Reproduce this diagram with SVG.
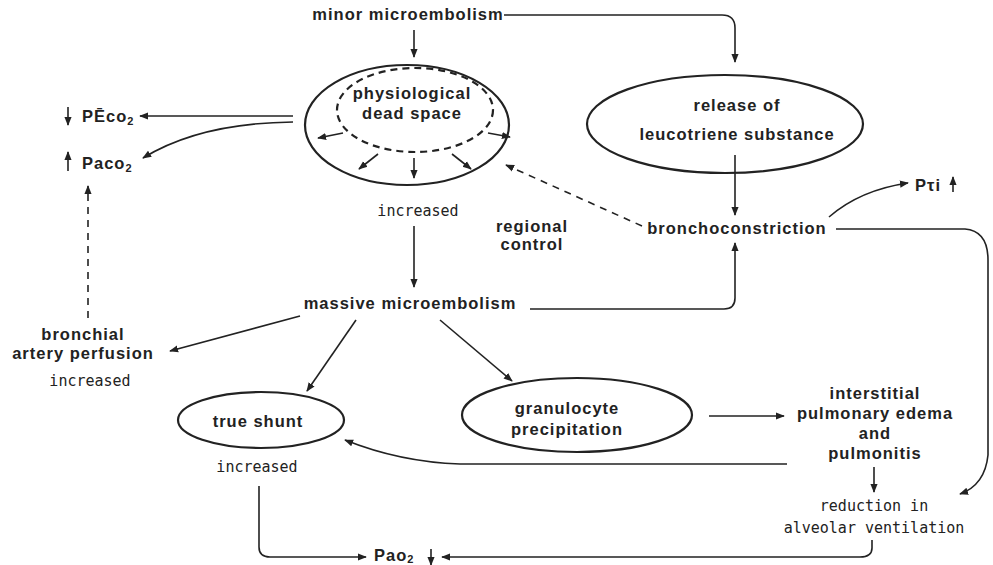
<svg xmlns="http://www.w3.org/2000/svg" width="993" height="565" viewBox="0 0 993 565">
<style>
.t{font-family:"Liberation Sans",Arial,sans-serif;font-size:16.5px;font-weight:bold;letter-spacing:1px;fill:#222;text-anchor:middle}
.m{font-family:"DejaVu Sans Mono","Liberation Mono",monospace;font-size:15px;fill:#222;text-anchor:middle}
.ln{fill:none;stroke:#222;stroke-width:1.6}
.dl{fill:none;stroke:#222;stroke-width:1.6;stroke-dasharray:7 6}
.el{fill:none;stroke:#222;stroke-width:2.2}
.de{fill:none;stroke:#222;stroke-width:2.2;stroke-dasharray:7 5}
</style>
<defs>
<marker id="a" viewBox="0 0 10 10" refX="9" refY="5" markerWidth="9" markerHeight="9" markerUnits="userSpaceOnUse" orient="auto">
<path d="M0,1 L10,5 L0,9 z" fill="#222"/>
</marker>
</defs>
<rect width="993" height="565" fill="#fff"/>

<g id="minor"><text class="t" x="408" y="20">minor microembolism</text></g>

<g id="deadspace">
<ellipse class="el" cx="407" cy="125" rx="102" ry="60"/>
<ellipse class="de" cx="415" cy="110" rx="78" ry="42"/>
<text class="t" x="412" y="99">physiological</text>
<text class="t" x="412" y="119">dead space</text>
<g class="ln">
<line x1="343" y1="133" x2="318" y2="138" marker-end="url(#a)"/>
<line x1="488" y1="133" x2="510" y2="137" marker-end="url(#a)"/>
<line x1="378" y1="154" x2="359" y2="169" marker-end="url(#a)"/>
<line x1="414" y1="158" x2="414" y2="178" marker-end="url(#a)"/>
<line x1="452" y1="154" x2="471" y2="169" marker-end="url(#a)"/>
</g>
<text class="m" x="418" y="216">increased</text>
</g>

<g id="leuco">
<ellipse class="el" cx="725" cy="124" rx="138" ry="49"/>
<text class="t" x="737" y="111">release of</text>
<text class="t" x="737" y="140">leucotriene substance</text>
</g>

<g id="broncho"><text class="t" x="737" y="234">bronchoconstriction</text></g>
<g id="pti"><text class="t" x="928" y="191">Pτi</text>
<line class="ln" x1="953" y1="192" x2="953" y2="177" marker-end="url(#a)"/></g>

<g id="regional"><text class="t" x="532" y="232">regional</text><text class="t" x="532" y="250">control</text></g>

<g id="massive"><text class="t" x="410" y="309">massive microembolism</text></g>

<g id="peco2"><line class="ln" x1="68" y1="107" x2="68" y2="125" marker-end="url(#a)"/>
<text class="t" x="82" y="122" style="text-anchor:start">PĒco<tspan font-size="11" dy="3">2</tspan></text></g>
<g id="paco2"><line class="ln" x1="68" y1="171" x2="68" y2="152" marker-end="url(#a)"/>
<text class="t" x="82" y="169" style="text-anchor:start">Paco<tspan font-size="11" dy="3">2</tspan></text></g>

<g id="bronchial">
<text class="t" x="83" y="340">bronchial</text>
<text class="t" x="83" y="359">artery perfusion</text>
<text class="m" x="90" y="386">increased</text>
</g>

<g id="trueshunt">
<ellipse class="el" cx="261" cy="420" rx="83" ry="28"/>
<text class="t" x="258" y="427">true shunt</text>
<text class="m" x="257" y="472">increased</text>
</g>

<g id="granulocyte">
<ellipse class="el" cx="577" cy="415" rx="115" ry="37"/>
<text class="t" x="567" y="414">granulocyte</text>
<text class="t" x="567" y="435">precipitation</text>
</g>

<g id="edema">
<text class="t" x="875" y="399">interstitial</text>
<text class="t" x="875" y="419">pulmonary edema</text>
<text class="t" x="875" y="439">and</text>
<text class="t" x="875" y="459">pulmonitis</text>
</g>

<g id="reduction">
<text class="m" x="874" y="511">reduction in</text>
<text class="m" x="874" y="533">alveolar ventilation</text>
</g>

<g id="pao2"><text class="t" x="374" y="561" style="text-anchor:start">Pao<tspan font-size="11" dy="2">2</tspan></text>
<line class="ln" x1="431" y1="549" x2="431" y2="565" marker-end="url(#a)"/></g>

<g id="connectors">
<line class="ln" x1="414" y1="30" x2="414" y2="57" marker-end="url(#a)"/>
<path class="ln" d="M504,15 L722,15 Q735,15 735,28 L735,62" marker-end="url(#a)"/>
<path class="ln" d="M735,155 L735,215" marker-end="url(#a)"/>
<line class="dl" x1="642" y1="226" x2="506" y2="165" marker-end="url(#a)"/>
<line class="ln" x1="414" y1="226" x2="414" y2="287" marker-end="url(#a)"/>
<path class="ln" d="M530,309 L724,309 Q735,309 735,298 L735,243" marker-end="url(#a)"/>
<path class="ln" d="M829,217 Q860,190 908,183" marker-end="url(#a)"/>
<path class="ln" d="M836,229 L965,229 Q988,231 988,260 L988,455 Q985,485 960,494" marker-end="url(#a)"/>
<line class="ln" x1="293" y1="116" x2="140" y2="116" marker-end="url(#a)"/>
<path class="ln" d="M293,122 Q200,123 143,158" marker-end="url(#a)"/>
<line class="dl" x1="88" y1="318" x2="88" y2="186" marker-end="url(#a)"/>
<line class="ln" x1="300" y1="316" x2="170" y2="351" marker-end="url(#a)"/>
<line class="ln" x1="356" y1="320" x2="307" y2="391" marker-end="url(#a)"/>
<line class="ln" x1="440" y1="320" x2="512" y2="381" marker-end="url(#a)"/>
<line class="ln" x1="709" y1="416" x2="784" y2="416" marker-end="url(#a)"/>
<path class="ln" d="M787,464 L460,464 Q400,462 345,440" marker-end="url(#a)"/>
<line class="ln" x1="874" y1="467" x2="874" y2="492" marker-end="url(#a)"/>
<path class="ln" d="M872,540 L872,548 Q872,557 860,557 L442,557" marker-end="url(#a)"/>
<path class="ln" d="M259,486 L259,547 Q259,557 270,557 L366,557" marker-end="url(#a)"/>
</g>
</svg>
